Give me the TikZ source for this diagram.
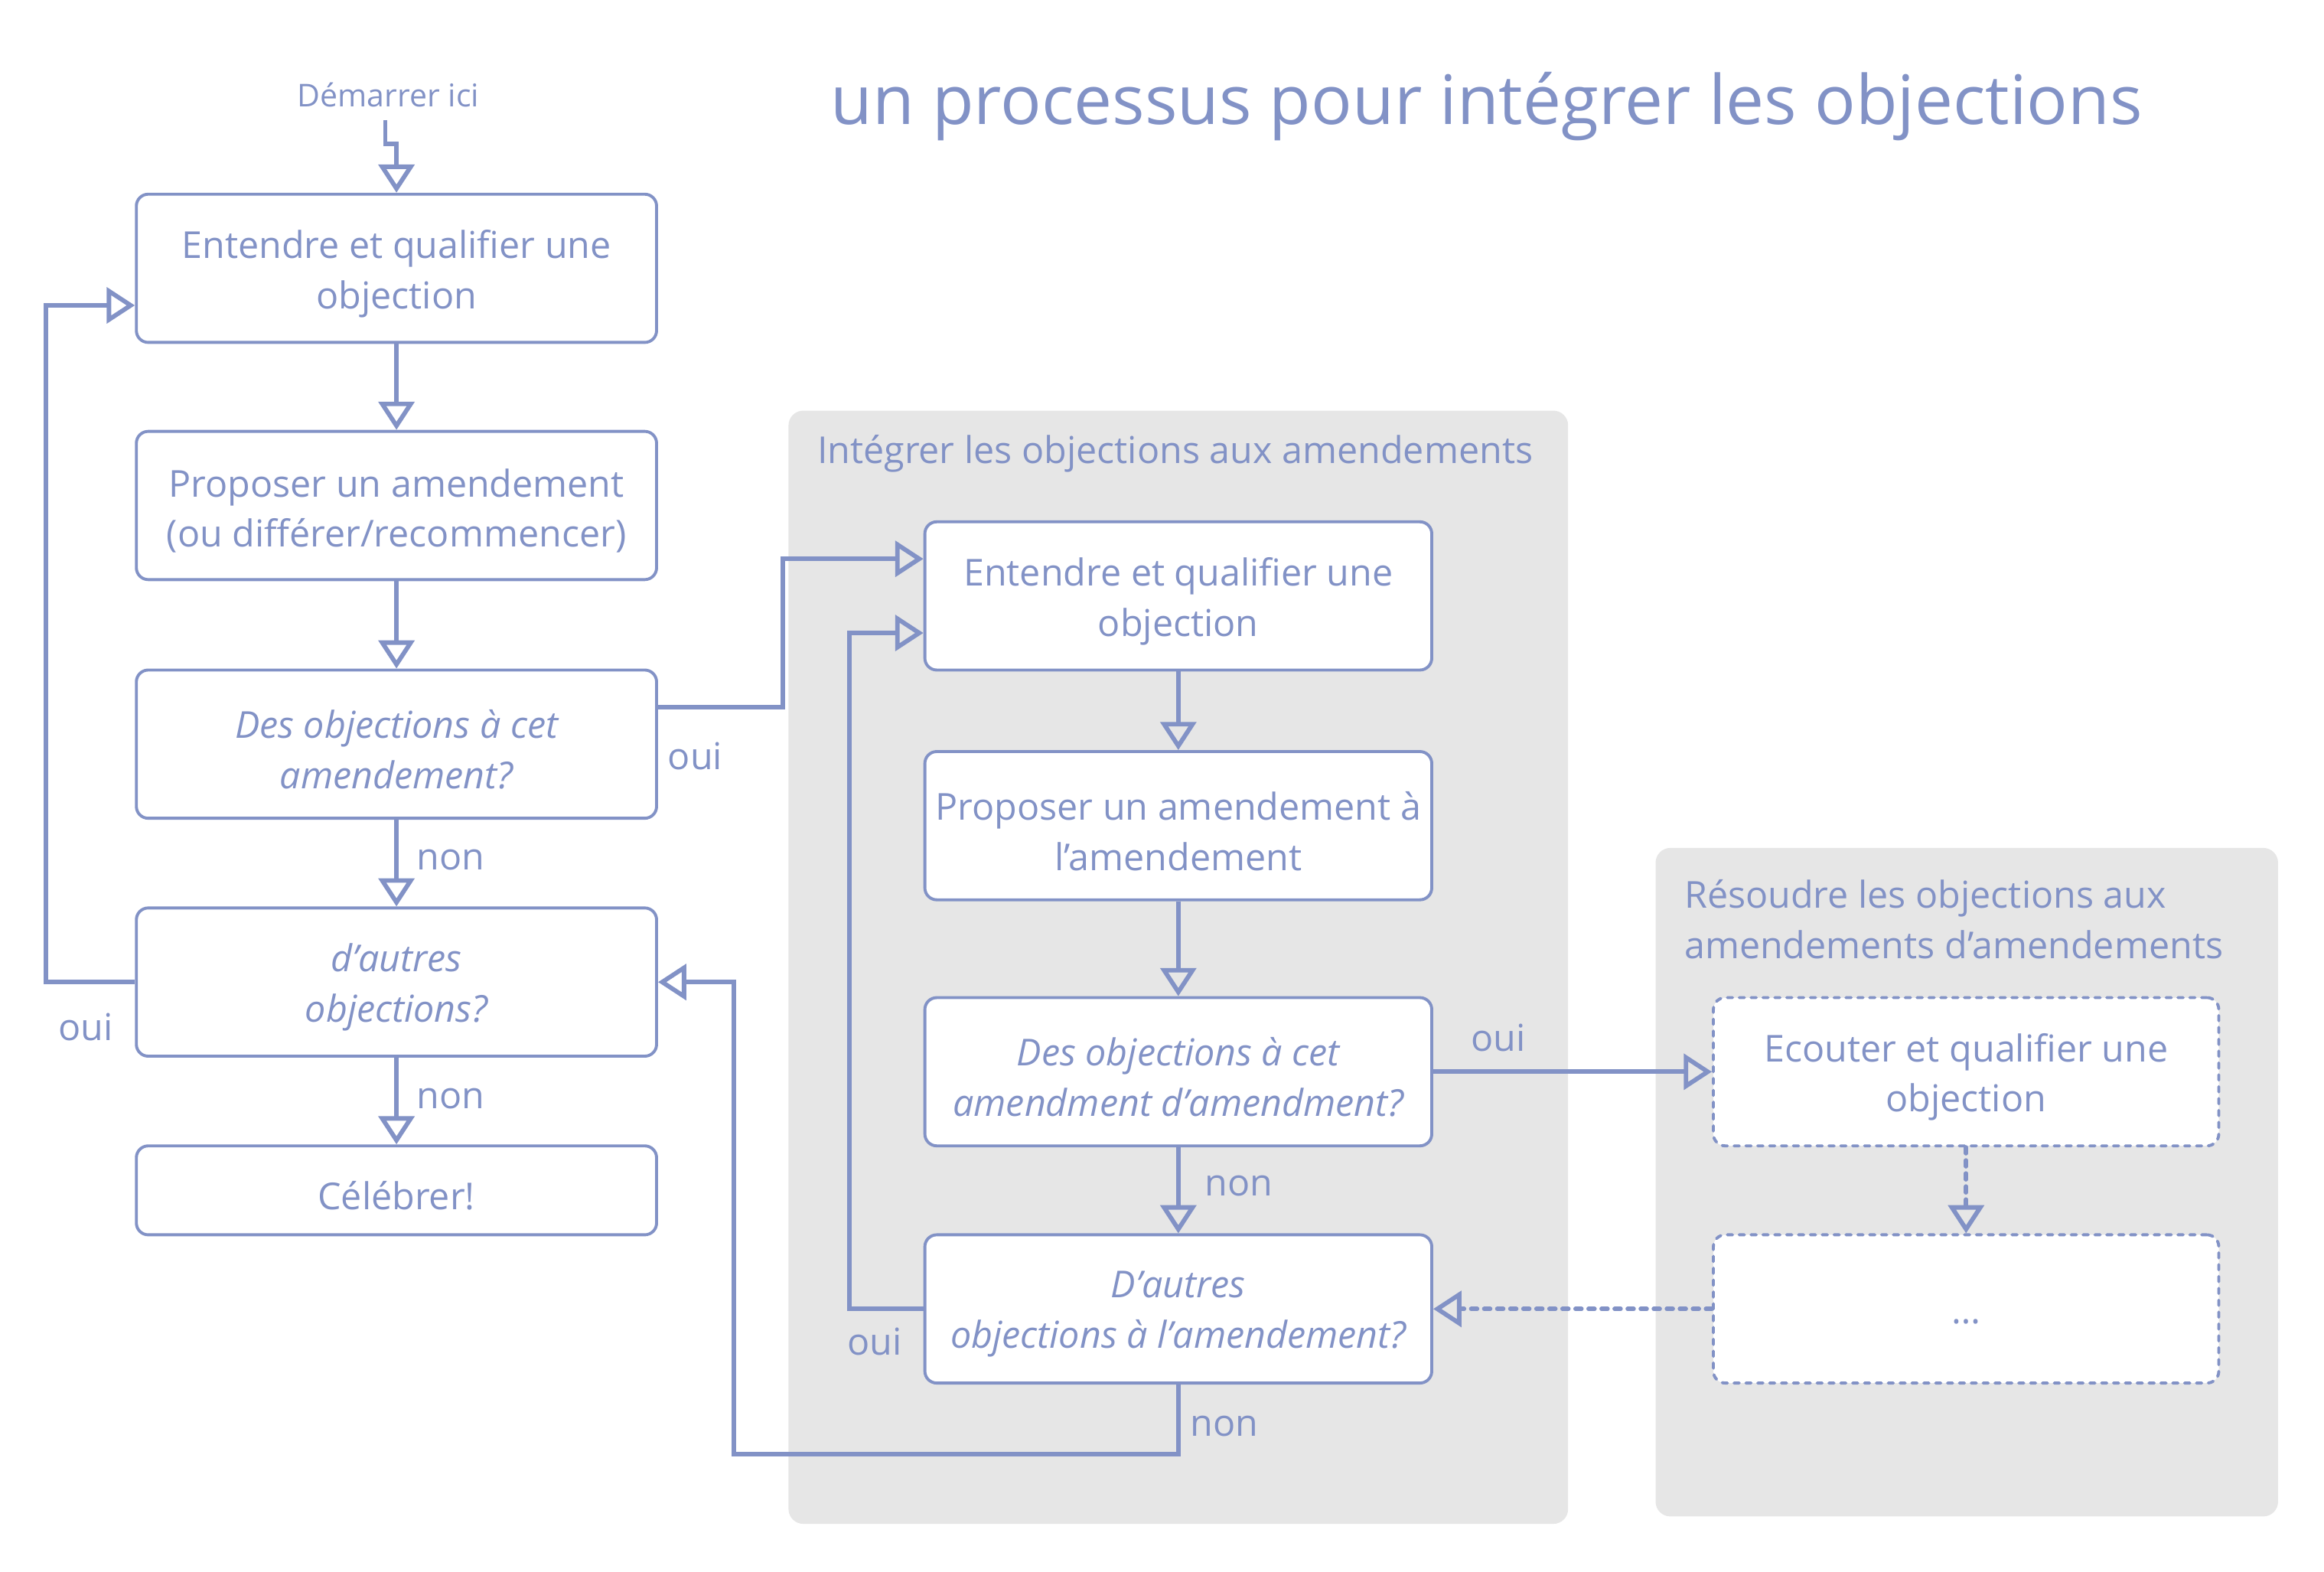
\documentclass[tikz,border=0pt]{standalone}
\usepackage{fontspec}
\setmainfont{Open Sans}
\usetikzlibrary{arrows.meta,calc}
\definecolor{lc}{RGB}{130,146,198}
\definecolor{pg}{RGB}{230,230,230}
\begin{document}
\begin{tikzpicture}[x=0.5pt,y=-0.5pt,
  box/.style={draw=lc, line width=1pt, rounded corners=4pt, fill=white,
    minimum width=175.5pt, minimum height=50pt, inner sep=0pt},
  btxt/.style={align=center, inner sep=0pt, text=lc, yshift=-1.8pt,
    font=\fontsize{12.5}{17}\selectfont},
  ibox/.style={box, minimum width=171pt},
  dbox/.style={box, minimum width=170.5pt, dash pattern=on 1.8pt off 2.2pt, line cap=round},
  arr/.style={draw=lc, line width=1.5pt, -{Triangle[open, length=9.5pt, width=12pt]}},
  darr/.style={arr, dash pattern=on 2pt off 2.4pt, line cap=round},
  lbl/.style={text=lc, font=\fontsize{12.5}{14}\selectfont, inner sep=0pt},
  panel/.style={fill=pg, rounded corners=5pt}
]
\useasboundingbox (0,0) rectangle (1568,1060);

% panels
\path[panel] (532,277) rectangle (1058,1028);
\path[panel] (1117,572) rectangle (1537,1023);

% titles
\node[lbl, font=\fontsize{23}{26}\selectfont] (title) at (1003,72) {un processus pour intégrer les objections};
\node[lbl, font=\fontsize{10.6}{12}\selectfont] (start) at (262,64) {Démarrer ici};
\node[lbl, anchor=west] (p1t) at (551,306) {Intégrer les objections aux amendements};
\node[lbl, anchor=west, align=left, font=\fontsize{12.5}{17}\selectfont] (p2t) at (1136,620) {Résoudre les objections aux\\amendements d’amendements};

% left column
\node[box, label={[btxt]center:{Entendre et qualifier une\\objection}}] (b1) at (267.5,181) {};
\node[box, label={[btxt]center:{Proposer un amendement\\(ou différer/recommencer)}}] (b2) at (267.5,341) {};
\node[box, label={[btxt, font=\fontsize{12.5}{17}\selectfont\itshape]center:{Des objections à cet\\amendement?}}] (b3) at (267.5,502) {};
\node[box, label={[btxt, font=\fontsize{12.5}{17}\selectfont\itshape]center:{d’autres\\objections?}}] (b4) at (267.5,662.5) {};
\node[box, minimum height=30pt, label={[btxt]center:{Célébrer!}}] (b5) at (267.5,803) {};

% middle column
\node[ibox, label={[btxt]center:{Entendre et qualifier une\\objection}}] (i1) at (795,402) {};
\node[ibox, label={[btxt]center:{Proposer un amendement à\\l’amendement}}] (i2) at (795,557) {};
\node[ibox, label={[btxt, font=\fontsize{12.5}{17}\selectfont\itshape]center:{Des objections à cet\\amendment d’amendment?}}] (i3) at (795,723) {};
\node[ibox, label={[btxt, font=\fontsize{12.5}{17}\selectfont\itshape]center:{D’autres\\objections à l’amendement?}}] (i4) at (795,883) {};

% right column
\node[dbox, label={[btxt]center:{Ecouter et qualifier une\\objection}}] (d1) at (1326.5,723) {};
\node[dbox, label={[btxt, yshift=-2.5pt]center:{…}}] (d2) at (1326.5,883) {};

% start connector
\coordinate (s0) at (260,81);
\draw[arr] (s0) -- ++(0,16) -| (b1.north);

% left column connectors
\draw[arr] (b1) -- (b2);
\draw[arr] (b2) -- (b3);
\draw[arr] (b3) -- (b4);
\draw[arr] (b4) -- (b5);
\draw[arr] (b4.west) -- ++(-60,0) |- ($(b1.west)+(0,25)$);
\draw[arr] ($(b3.east)+(0,-25)$) -- ++(84,0) |- ($(i1.west)+(0,-25)$);

% middle connectors
\draw[arr] (i1) -- (i2);
\draw[arr] (i2) -- (i3);
\draw[arr] (i3) -- (i4);
\draw[arr] (i4.west) -- ++(-50,0) |- ($(i1.west)+(0,25)$);
\draw[arr] (i4.south) -- ++(0,47) -| ($(b4.east)+(51,0)$) -- (b4.east);
\draw[arr] (i3.east) -- (d1.west);

% right connectors
\draw[darr] (d1) -- (d2);
\draw[darr] (d2.west) -- (i4.east);

% labels
\node[lbl] (l1) at (469,510) {oui};
\node[lbl] (l2) at (304,580) {non};
\node[lbl] (l3) at (58,693) {oui};
\node[lbl] (l4) at (304,741) {non};
\node[lbl] (l5) at (1011,700) {oui};
\node[lbl] (l6) at (836,800) {non};
\node[lbl] (l7) at (590,905) {oui};
\node[lbl] (l8) at (826,962) {non};
\end{tikzpicture}
\end{document}
